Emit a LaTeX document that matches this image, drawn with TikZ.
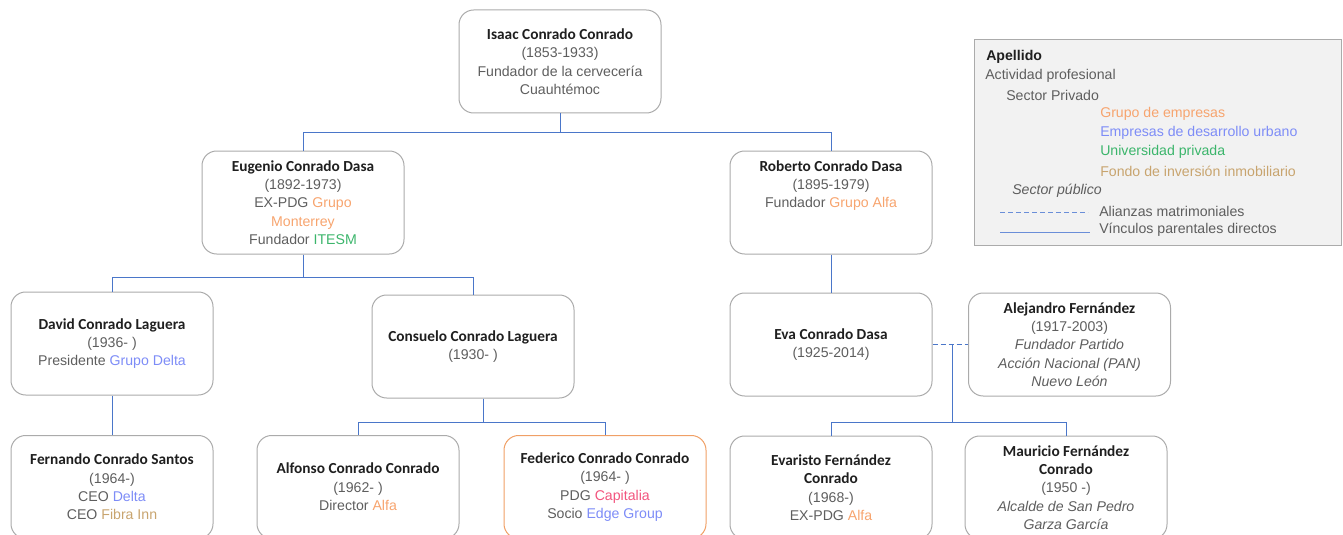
\documentclass[tikz,border=0pt]{standalone}
\usepackage{fontspec}
\setmainfont{Liberation Sans}
\newfontfamily\namefont{Carlito}
\usetikzlibrary{calc}
\definecolor{txt}{HTML}{5E5E5E}
\definecolor{boxgray}{HTML}{ABABAB}
\definecolor{linkblue}{HTML}{4A76C9}
\definecolor{legblue}{HTML}{6A8ED8}
\definecolor{orangeC}{HTML}{F7A46E}
\definecolor{blueC}{HTML}{7D8CF7}
\definecolor{greenC}{HTML}{3BB56B}
\definecolor{tanC}{HTML}{C8A46E}
\definecolor{pinkC}{HTML}{F2547E}
\definecolor{fedorange}{HTML}{F0A066}
\definecolor{legfill}{HTML}{F2F2F2}
\newcommand\nm[1]{{\namefont\bfseries\fontsize{11.5}{13.8}\selectfont\color{black!88}#1}}
\tikzset{
  person/.style={draw=boxgray, line width=0.75pt, rounded corners=11pt,
    minimum width=151.5pt, minimum height=77.25pt, align=center, text=txt,
    font=\fontsize{10.6}{13.8}\selectfont, inner sep=0pt},
  link/.style={draw=linkblue, line width=0.75pt},
  marriage/.style={draw=linkblue, line width=0.75pt, dash pattern=on 3.75pt off 2.25pt},
  legtext/.style={anchor=west, inner sep=0pt, text=txt, font=\fontsize{10.6}{13.8}\selectfont},
}
\begin{document}
\begin{tikzpicture}[x=0.75pt,y=-0.75pt]
\useasboundingbox (0,0) rectangle (1343,535);
% persons
\node[person] (isaac) at (560,61.5) {\nm{Isaac Conrado Conrado}\\(1853-1933)\\Fundador de la cervecería\\Cuauhtémoc};
\node[person] (eugenio) at (303,202.5) {\nm{Eugenio Conrado Dasa}\\(1892-1973)\\EX-PDG \textcolor{orangeC}{Grupo}\\\textcolor{orangeC}{Monterrey}\\Fundador \textcolor{greenC}{ITESM}};
\node[person] (roberto) at (831,202.5) {\nm{Roberto Conrado Dasa}\\(1895-1979)\\Fundador \textcolor{orangeC}{Grupo Alfa}\\~\\~};
\node[person] (david) at (112,343.5) {\nm{David Conrado Laguera}\\(1936- )\\Presidente \textcolor{blueC}{Grupo Delta}};
\node[person] (consuelo) at (473,346.5) {\nm{Consuelo Conrado Laguera}\\(1930- )};
\node[person] (eva) at (831,344.5) {\nm{Eva Conrado Dasa}\\(1925-2014)};
\node[person] (alejandro) at (1069.5,344.5) {\nm{Alejandro Fernández}\\(1917-2003)\\\textit{Fundador Partido}\\\textit{Acción Nacional (PAN)}\\\textit{Nuevo León}};
\node[person] (fernando) at (112,487) {\nm{Fernando Conrado Santos}\\(1964-)\\CEO \textcolor{blueC}{Delta}\\CEO \textcolor{tanC}{Fibra Inn}};
\node[person] (alfonso) at (358,487) {\nm{Alfonso Conrado Conrado}\\(1962- )\\Director \textcolor{orangeC}{Alfa}};
\node[person, draw=fedorange] (federico) at (605,487) {\nm{Federico Conrado Conrado}\\(1964- )\\PDG \textcolor{pinkC}{Capitalia}\\Socio \textcolor{blueC}{Edge Group}};
\node[person] (evaristo) at (831,487.5) {\nm{Evaristo Fernández}\\\nm{Conrado}\\(1968-)\\EX-PDG \textcolor{orangeC}{Alfa}};
\node[person] (mauricio) at (1066,487.5) {\nm{Mauricio Fernández}\\\nm{Conrado}\\(1950 -)\\\textit{Alcalde de San Pedro}\\\textit{Garza García}};
% connectors
\draw[link] (isaac.south) -- ++(0,19) -| (eugenio.north);
\draw[link] (isaac.south) -- ++(0,19) -| (roberto.north);
\draw[link] (eugenio.south) -- ++(0,22.5) -| (david.north);
\draw[link] (eugenio.south) -- ++(0,22.5) -| (consuelo.north);
\draw[link] (david) -- (fernando);
\draw[link] ($(consuelo.south)+(10,0)$) -- ++(0,24) -| (alfonso.north);
\draw[link] ($(consuelo.south)+(10,0)$) -- ++(0,24) -| (federico.north);
\draw[link] (roberto) -- (eva);
\draw[marriage] (eva.east) -- (alejandro.west);
\coordinate (mar) at ($(eva.east)!0.55!(alejandro.west)$);
\draw[link] (mar) -- ++(0,77.5) -| (evaristo.north);
\draw[link] (mar) -- ++(0,77.5) -| (mauricio.north);
% legend
\node[draw=boxgray, fill=legfill, line width=0.75pt, anchor=north west, minimum width=275.6pt, minimum height=154.5pt, inner sep=0pt] (legend) at (974,39) {};
\node[legtext, font=\fontsize{10.6}{13.8}\selectfont\bfseries, text=black!88] (lg1) at (986,57) {Apellido};
\node[legtext] (lg2) at (985,76) {Actividad profesional};
\node[legtext] (lg3) at (1006,95) {Sector Privado};
\node[legtext, text=orangeC] (lg4) at (1100,114) {Grupo de empresas};
\node[legtext, text=blueC] (lg5) at (1100,133) {Empresas de desarrollo urbano};
\node[legtext, text=greenC] (lg6) at (1100,152) {Universidad privada};
\node[legtext, text=tanC] (lg7) at (1100,171) {Fondo de inversión inmobiliario};
\node[legtext, font=\fontsize{10.6}{13.8}\selectfont\itshape] (lg8) at (1012,191) {Sector público};
\node[legtext] (lg9) at (1099,211) {Alianzas matrimoniales};
\node[legtext] (lg10) at (1099,230) {Vínculos parentales directos};
\coordinate (d1) at (1000,212);
\coordinate (d2) at (1088,212);
\coordinate (s1) at (1000,232);
\coordinate (s2) at (1090,232);
\draw[marriage, draw=legblue] (d1) -- (d2);
\draw[link, draw=legblue] (s1) -- (s2);
\end{tikzpicture}
\end{document}
